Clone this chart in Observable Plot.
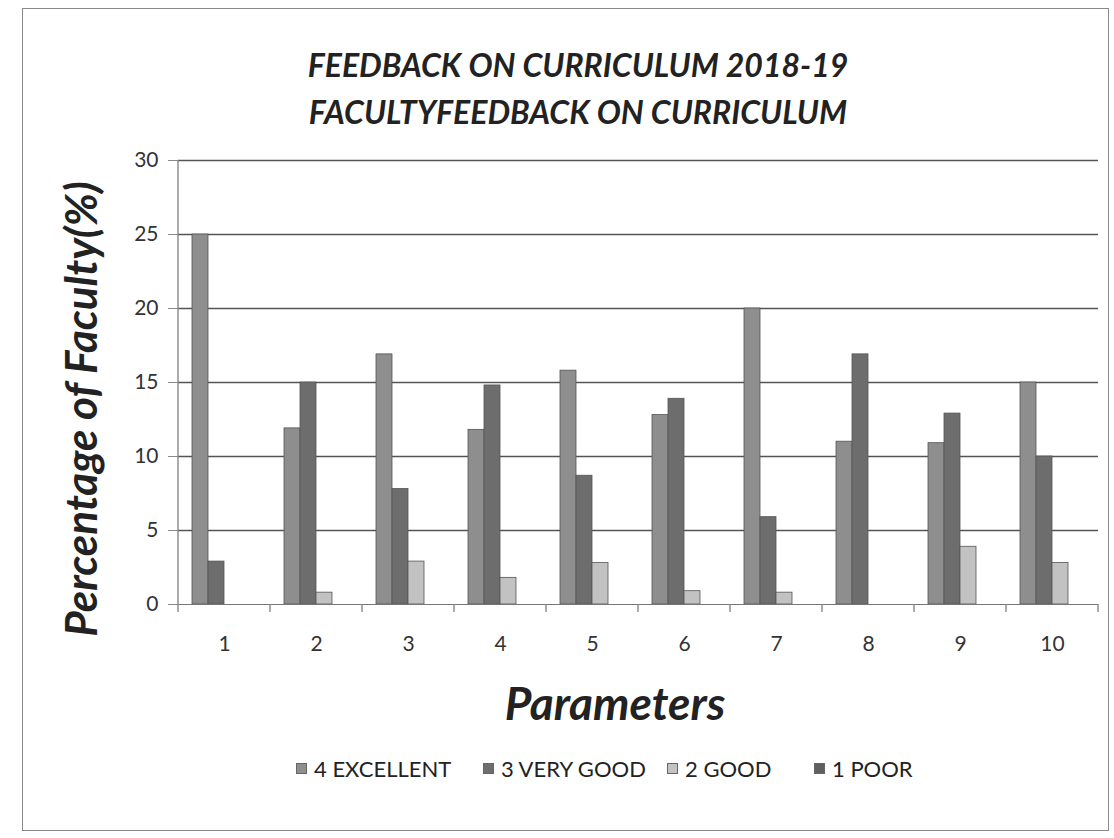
<!DOCTYPE html>
<html><head><meta charset="utf-8">
<script src="https://cdn.jsdelivr.net/npm/d3@7"></script>
<script src="https://cdn.jsdelivr.net/npm/@observablehq/plot@0.6"></script>
<style>
body{margin:0;background:#fff;}
#wrap{position:relative;width:1114px;height:838px;overflow:hidden;font-family:Lato,"Open Sans",sans-serif;color:#222;}
#border{position:absolute;left:22px;top:8px;width:1087px;height:823px;border:1.5px solid #8a8a8a;box-sizing:border-box;}
.title{position:absolute;left:0;width:1156px;text-align:center;font-weight:bold;font-style:italic;font-size:32px;line-height:1;white-space:nowrap;}
#ytitle{position:absolute;left:80px;top:409px;transform:translate(-50%,-50%) rotate(-90deg);font-weight:bold;font-style:italic;font-size:44px;white-space:nowrap;line-height:1;}
#xtitle{position:absolute;left:0;width:1230px;text-align:center;top:680px;font-weight:bold;font-style:italic;font-size:46px;line-height:1;}
#chart{position:absolute;left:0;top:140px;}
#legend{position:absolute;top:755px;left:0;width:1114px;height:26px;font-size:22px;}
.item{position:absolute;top:0;display:flex;align-items:center;white-space:nowrap;}
.sw{width:11px;height:11px;margin-right:7px;border:1px solid #666;box-sizing:border-box;}
</style></head>
<body>
<div id="wrap">
  <div id="border"></div>
  <div class="title" style="top:49px">FEEDBACK ON CURRICULUM 2018-19</div>
  <div class="title" style="top:96px">FACULTYFEEDBACK ON CURRICULUM</div>
  <div id="ytitle">Percentage of Faculty(%)</div>
  <div id="chart"></div>
  <div id="xtitle">Parameters</div>
  <div id="legend"></div>
</div>
<script>
const params = ["1","2","3","4","5","6","7","8","9","10"];
const series = ["4 EXCELLENT","3 VERY GOOD","2 GOOD","1 POOR"];
const excellent = [25, 11.9, 16.9, 11.8, 15.8, 12.8, 20, 11, 10.9, 15];
const veryGood  = [2.9, 15, 7.8, 14.8, 8.7, 13.9, 5.9, 16.9, 12.9, 10];
const good      = [0, 0.8, 2.9, 1.8, 2.8, 0.9, 0.8, 0, 3.9, 2.8];
const poor      = [0, 0, 0, 0, 0, 0, 0, 0, 0, 0];
const colors = ["#8e8e8e", "#6d6d6d", "#c2c2c2", "#5f5f5f"];
const yTicks = [0, 5, 10, 15, 20, 25, 30];
const legendX = [296, 483, 667, 814];

const seriesValues = [excellent, veryGood, good, poor];
const data = params.flatMap((p, i) => seriesValues.map((arr, j) => ({param: p, series: series[j], value: arr[i]})))
  .filter(d => d.value > 0);

const plot = Plot.plot({
  width: 1114, height: 540,
  marginLeft: 175, marginRight: 14, marginTop: 20, marginBottom: 76,
  style: {fontFamily: "Lato, 'Open Sans', sans-serif", fontSize: "21px", color: "#333", background: "transparent"},
  fx: {domain: params, padding: 0, label: null},
  x: {domain: series, paddingInner: 0, paddingOuter: 0.8, axis: null},
  y: {domain: [0, 30], label: null},
  color: {domain: series, range: colors},
  marks: [
    Plot.ruleY(yTicks.slice(1), {stroke: "#555", strokeWidth: 1.5}),
    Plot.barY(data, {fx: "param", x: "series", y: "value", fill: "series", stroke: "#555", strokeWidth: 0.8}),
    Plot.ruleY([0], {stroke: "#777", strokeWidth: 1.2}),
    Plot.axisY({ticks: yTicks, tickSize: 10, tickPadding: 10, stroke: "#888"}),
    Plot.axisFx({anchor: "bottom", tickSize: 0, tickPadding: 32, label: null})
  ]
});
document.getElementById("chart").appendChild(plot);

// axis line and category separator ticks, placed with the plot's own scales
const fx = plot.scale("fx"), y = plot.scale("y");
const svg = d3.select(plot);
const g = svg.append("g").attr("stroke", "#888").attr("stroke-width", 1.4);
const left = fx.apply(params[0]);
g.append("line").attr("x1", left).attr("x2", left).attr("y1", y.apply(0) + 1).attr("y2", y.apply(30));
const bounds = params.map(p => fx.apply(p)).concat([fx.apply(params[params.length - 1]) + fx.bandwidth]);
bounds.forEach(b => g.append("line").attr("x1", b).attr("x2", b).attr("y1", y.apply(0)).attr("y2", y.apply(0) + 8));

// legend
const legend = d3.select("#legend");
series.forEach((s, i) => {
  const it = legend.append("div").attr("class", "item").style("left", legendX[i] + "px");
  it.append("div").attr("class", "sw").style("background", colors[i]);
  it.append("span").text(s);
});
</script>
</body></html>
